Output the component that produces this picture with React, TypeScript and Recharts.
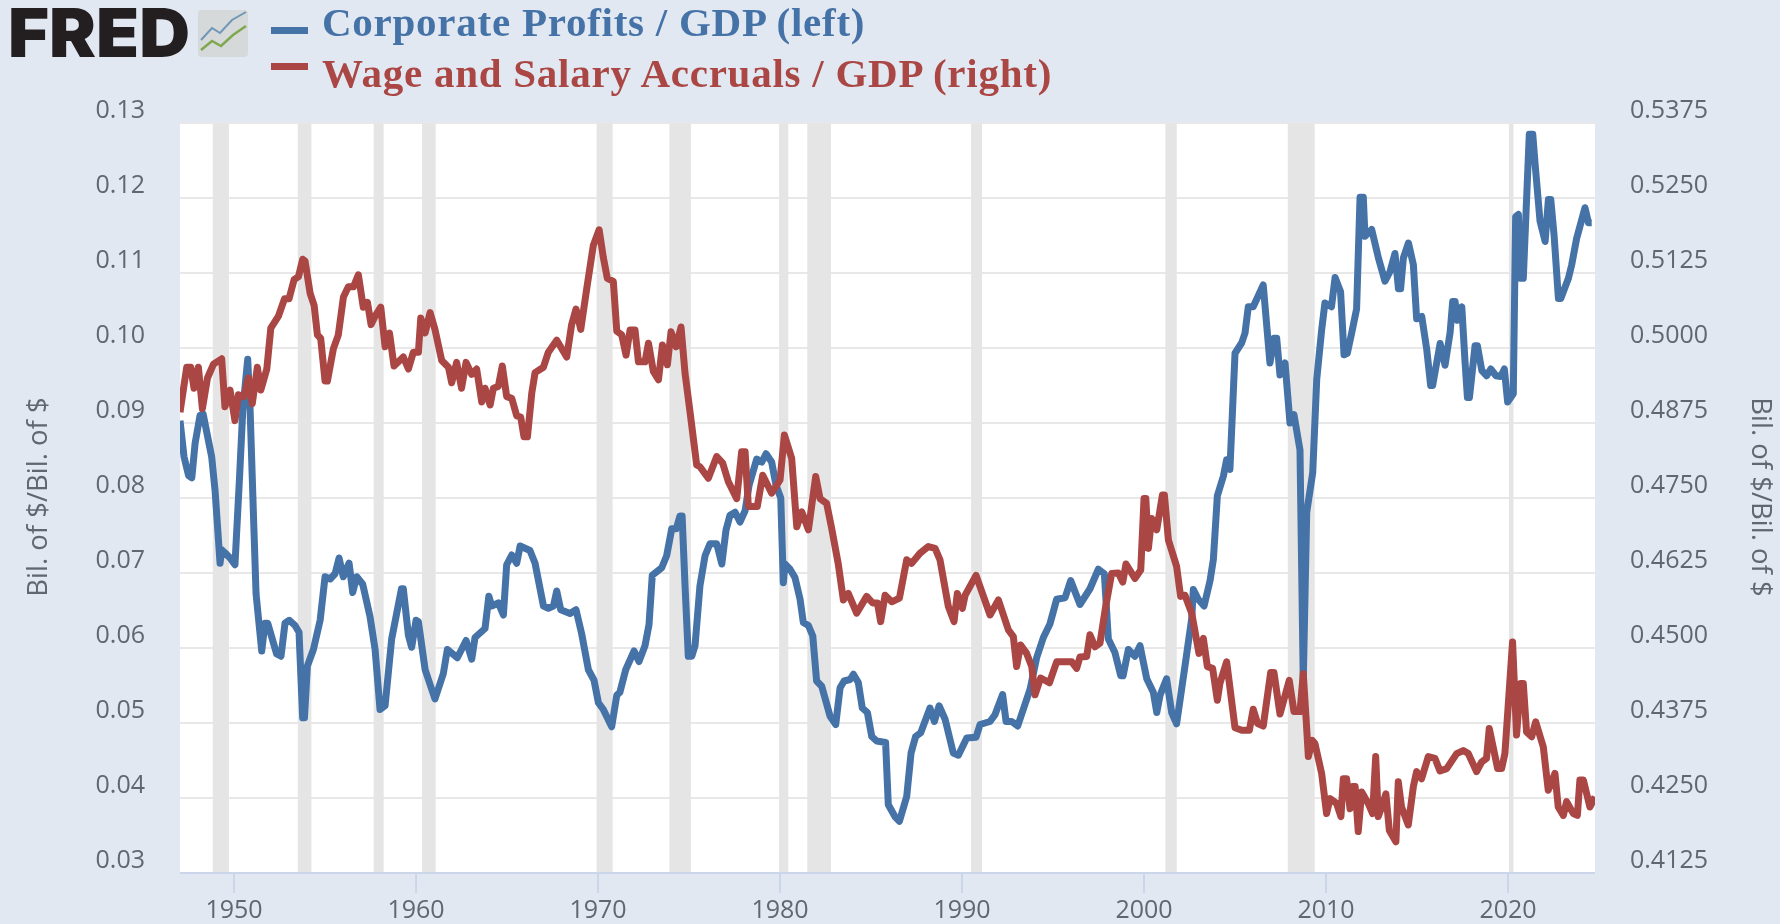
import { CartesianGrid, Line, LineChart, ReferenceArea, XAxis, YAxis } from "recharts"

const profitYears = [
  1947.03, 1947.25, 1947.5, 1947.68, 1947.86, 1948.13, 1948.3, 1948.77, 1948.96, 1949.23, 1949.32, 1949.5, 1949.78,
  1950.05, 1950.3, 1950.48, 1950.75, 1950.88, 1951.06, 1951.21, 1951.52, 1951.7, 1951.85, 1952.34, 1952.58, 1952.8,
  1953.04, 1953.35, 1953.57, 1953.77, 1953.87, 1954.03, 1954.36, 1954.73, 1955.0, 1955.28, 1955.55, 1955.77, 1956.0,
  1956.32, 1956.52, 1956.74, 1957.07, 1957.47, 1957.75, 1958.02, 1958.3, 1958.66, 1959.2, 1959.3, 1959.58, 1959.76,
  1960.0, 1960.13, 1960.5, 1961.04, 1961.5, 1961.72, 1962.27, 1962.75, 1963.06, 1963.24, 1963.79, 1964.0, 1964.16,
  1964.52, 1964.8, 1964.98, 1965.26, 1965.53, 1965.72, 1966.26, 1966.54, 1967.0, 1967.27, 1967.55, 1967.73, 1967.95,
  1968.46, 1968.79, 1969.1, 1969.47, 1969.78, 1970.02, 1970.29, 1970.75, 1971.03, 1971.2, 1971.52, 1971.98, 1972.25,
  1972.58, 1972.8, 1972.98, 1973.5, 1973.77, 1974.05, 1974.3, 1974.5, 1974.62, 1974.78, 1974.96, 1975.15, 1975.33,
  1975.6, 1975.88, 1976.15, 1976.52, 1976.8, 1977.03, 1977.25, 1977.53, 1977.8, 1978.08, 1978.3, 1978.72, 1979.0,
  1979.23, 1979.54, 1979.78, 1980.04, 1980.18, 1980.27, 1980.55, 1980.82, 1981.1, 1981.28, 1981.56, 1981.8, 1982.01,
  1982.29, 1982.75, 1983.06, 1983.3, 1983.52, 1983.85, 1984.03, 1984.3, 1984.52, 1984.8, 1985.04, 1985.31, 1985.8,
  1985.95, 1986.32, 1986.56, 1986.96, 1987.2, 1987.45, 1987.73, 1988.24, 1988.48, 1988.74, 1989.07, 1989.52, 1989.8,
  1990.26, 1990.77, 1990.99, 1991.54, 1991.81, 1992.23, 1992.42, 1992.73, 1993.06, 1993.46, 1993.74, 1994.1, 1994.47,
  1994.83, 1995.2, 1995.66, 1995.97, 1996.48, 1997.03, 1997.49, 1997.82, 1998.04, 1998.4, 1998.72, 1998.85, 1999.14,
  1999.5, 1999.78, 2000.15, 2000.51, 2000.7, 2000.88, 2001.24, 2001.52, 2001.79, 2002.25, 2002.62, 2002.71, 2002.98,
  2003.3, 2003.63, 2003.81, 2004.03, 2004.36, 2004.54, 2004.72, 2005.0, 2005.37, 2005.55, 2005.73, 2006.0, 2006.55,
  2006.92, 2007.14, 2007.29, 2007.47, 2007.75, 2008.02, 2008.24, 2008.57, 2008.75, 2008.94, 2009.27, 2009.49, 2009.76,
  2009.94, 2010.3, 2010.5, 2010.8, 2010.99, 2011.17, 2011.41, 2011.68, 2011.87, 2012.05, 2012.14, 2012.51, 2012.88,
  2013.24, 2013.52, 2013.79, 2013.98, 2014.1, 2014.25, 2014.53, 2014.8, 2014.98, 2015.26, 2015.53, 2015.75, 2015.86,
  2016.27, 2016.54, 2016.82, 2016.96, 2017.09, 2017.22, 2017.46, 2017.64, 2017.77, 2017.88, 2018.19, 2018.32, 2018.56,
  2018.83, 2019.05, 2019.34, 2019.6, 2019.8, 2019.98, 2020.29, 2020.42, 2020.57, 2020.66, 2020.84, 2021.17, 2021.36,
  2021.49, 2021.76, 2022.04, 2022.22, 2022.35, 2022.53, 2022.77, 2022.9, 2023.32, 2023.5, 2023.77, 2024.23, 2024.42,
  2024.6,
]

const profitValues = [
  0.0903, 0.0855, 0.083, 0.0827, 0.0873, 0.091, 0.0912, 0.0855, 0.0809, 0.0713, 0.0731, 0.0727, 0.072,
  0.0711, 0.0827, 0.0917, 0.0985, 0.0919, 0.0782, 0.0672, 0.0596, 0.0633, 0.0633, 0.0592, 0.0589, 0.0633,
  0.0637, 0.063, 0.0621, 0.0507, 0.0507, 0.0576, 0.0598, 0.0637, 0.0695, 0.0692, 0.0699, 0.072, 0.0695,
  0.0713, 0.0674, 0.0695, 0.0685, 0.0642, 0.0598, 0.0518, 0.0523, 0.0612, 0.0679, 0.0679, 0.0617, 0.0601,
  0.0637, 0.0635, 0.0571, 0.0532, 0.0566, 0.0598, 0.0587, 0.061, 0.0585, 0.0614, 0.0626, 0.0669, 0.0656,
  0.066, 0.0644, 0.0711, 0.0724, 0.0713, 0.0736, 0.073, 0.0713, 0.0656, 0.0653, 0.0656, 0.0676, 0.0651,
  0.0646, 0.0651, 0.0619, 0.0571, 0.0557, 0.0527, 0.0518, 0.0495, 0.0537, 0.0541, 0.0571, 0.0596, 0.0582,
  0.0603, 0.0631, 0.0697, 0.0707, 0.0723, 0.0759, 0.0759, 0.0776, 0.0776, 0.0683, 0.0589, 0.0589, 0.0603,
  0.0683, 0.0723, 0.0739, 0.0739, 0.0712, 0.0757, 0.0777, 0.0781, 0.0768, 0.0783, 0.0817, 0.0852, 0.0848,
  0.0859, 0.0848, 0.0817, 0.08, 0.0687, 0.0712, 0.0705, 0.0694, 0.0665, 0.0634, 0.063, 0.0616, 0.0556,
  0.0549, 0.0509, 0.0498, 0.0547, 0.0556, 0.0558, 0.0565, 0.0554, 0.052, 0.0514, 0.0482, 0.0476, 0.0474,
  0.0391, 0.0375, 0.0369, 0.0402, 0.046, 0.0482, 0.0487, 0.052, 0.0502, 0.0523, 0.0505, 0.046, 0.0457,
  0.048, 0.0481, 0.0498, 0.0502, 0.0511, 0.0538, 0.0502, 0.0502, 0.0496, 0.0525, 0.0545, 0.0587, 0.0614,
  0.0632, 0.0665, 0.0667, 0.069, 0.0658, 0.0679, 0.0705, 0.0699, 0.0612, 0.0594, 0.0563, 0.0563, 0.0598,
  0.0589, 0.0603, 0.0559, 0.0541, 0.0514, 0.0537, 0.0559, 0.0514, 0.0499, 0.0576, 0.0639, 0.0678, 0.0665,
  0.0656, 0.069, 0.0718, 0.0803, 0.0829, 0.0851, 0.0838, 0.0993, 0.1007, 0.102, 0.1055, 0.1055, 0.1084,
  0.098, 0.1013, 0.1013, 0.0964, 0.098, 0.09, 0.0911, 0.0864, 0.0555, 0.0781, 0.0834, 0.0958, 0.1024,
  0.106, 0.1055, 0.1094, 0.1075, 0.0991, 0.0993, 0.102, 0.1052, 0.1201, 0.1201, 0.1149, 0.1158, 0.112,
  0.1089, 0.1102, 0.1126, 0.1079, 0.1079, 0.112, 0.114, 0.1111, 0.1039, 0.1042, 0.0999, 0.095, 0.095,
  0.1006, 0.0977, 0.1021, 0.1062, 0.1062, 0.1037, 0.1055, 0.0981, 0.0934, 0.0934, 0.1003, 0.1003, 0.097,
  0.0963, 0.0972, 0.0963, 0.0962, 0.0972, 0.0928, 0.0939, 0.1175, 0.1178, 0.1093, 0.1093, 0.1285, 0.1285,
  0.1245, 0.1169, 0.1142, 0.1198, 0.1198, 0.1151, 0.1066, 0.1066, 0.1093, 0.1111, 0.1146, 0.1187, 0.1167,
  0.1167,
]

const wageYears = [
  1947.03, 1947.4, 1947.62, 1947.8, 1948.04, 1948.26, 1948.54, 1948.87, 1949.32, 1949.5, 1949.78, 1950.05, 1950.24,
  1950.55, 1950.79, 1951.0, 1951.28, 1951.47, 1951.8, 1952.02, 1952.44, 1952.77, 1953.02, 1953.3, 1953.54, 1953.77,
  1953.9, 1954.18, 1954.4, 1954.58, 1954.76, 1955.0, 1955.13, 1955.46, 1955.73, 1956.01, 1956.28, 1956.56, 1956.83,
  1957.1, 1957.33, 1957.53, 1957.75, 1958.06, 1958.3, 1958.54, 1958.79, 1959.3, 1959.58, 1959.85, 1960.13, 1960.26,
  1960.5, 1960.77, 1961.04, 1961.41, 1961.78, 1961.96, 1962.23, 1962.5, 1962.75, 1963.06, 1963.33, 1963.61, 1963.79,
  1964.07, 1964.25, 1964.52, 1964.74, 1964.98, 1965.26, 1965.53, 1965.75, 1965.93, 1966.12, 1966.36, 1966.54, 1967.0,
  1967.27, 1967.73, 1968.28, 1968.55, 1968.79, 1969.05, 1969.38, 1969.74, 1970.06, 1970.29, 1970.51, 1970.84, 1971.03,
  1971.3, 1971.54, 1971.76, 1972.03, 1972.22, 1972.58, 1972.77, 1973.04, 1973.32, 1973.54, 1973.81, 1974.01, 1974.29,
  1974.56, 1974.78, 1975.06, 1975.42, 1975.6, 1976.06, 1976.52, 1976.85, 1977.16, 1977.62, 1977.89, 1978.08, 1978.26,
  1978.75, 1979.05, 1979.54, 1980.0, 1980.24, 1980.64, 1980.92, 1981.19, 1981.56, 1981.96, 1982.2, 1982.56, 1982.84,
  1983.2, 1983.48, 1983.75, 1984.21, 1984.76, 1985.09, 1985.35, 1985.53, 1985.77, 1986.14, 1986.56, 1986.96, 1987.23,
  1987.69, 1988.15, 1988.52, 1988.79, 1989.25, 1989.56, 1989.74, 1990.02, 1990.17, 1990.77, 1991.54, 1992.0, 1992.55,
  1992.82, 1993.0, 1993.22, 1993.55, 1993.83, 1994.01, 1994.32, 1994.8, 1995.2, 1996.03, 1996.3, 1996.48, 1996.85,
  1997.03, 1997.31, 1997.58, 1997.86, 1998.22, 1998.59, 1998.83, 1999.01, 1999.5, 1999.82, 2000.0, 2000.1, 2000.24,
  2000.42, 2000.7, 2001.01, 2001.12, 2001.34, 2001.79, 2002.01, 2002.25, 2002.62, 2003.02, 2003.26, 2003.48, 2003.77,
  2004.03, 2004.17, 2004.54, 2005.0, 2005.37, 2005.79, 2006.0, 2006.24, 2006.55, 2006.96, 2007.14, 2007.47, 2007.98,
  2008.24, 2008.57, 2008.75, 2008.9, 2009.03, 2009.25, 2009.39, 2009.76, 2010.03, 2010.22, 2010.58, 2010.82, 2010.95,
  2011.13, 2011.32, 2011.46, 2011.6, 2011.77, 2011.96, 2012.32, 2012.56, 2012.73, 2012.87, 2013.06, 2013.29, 2013.48,
  2013.84, 2013.97, 2014.15, 2014.52, 2014.8, 2014.98, 2015.25, 2015.62, 2015.99, 2016.26, 2016.63, 2017.18, 2017.54,
  2017.82, 2018.27, 2018.55, 2018.82, 2018.97, 2019.43, 2019.65, 2019.83, 2020.25, 2020.47, 2020.69, 2020.84, 2021.02,
  2021.3, 2021.52, 2021.94, 2022.21, 2022.58, 2022.76, 2023.04, 2023.22, 2023.59, 2023.81, 2023.95, 2024.14, 2024.5,
  2024.78,
]

const wageValues = [
  0.4893, 0.4968, 0.4968, 0.4933, 0.4968, 0.4899, 0.495, 0.4973, 0.4982, 0.4902, 0.493, 0.4879, 0.4922,
  0.4919, 0.495, 0.4907, 0.4968, 0.493, 0.4965, 0.5033, 0.5053, 0.5082, 0.5082, 0.5114, 0.5119, 0.5148,
  0.5145, 0.5091, 0.5071, 0.5022, 0.5016, 0.4945, 0.4945, 0.4999, 0.5022, 0.5085, 0.5102, 0.5102, 0.5122,
  0.5068, 0.5076, 0.5039, 0.5053, 0.5068, 0.5002, 0.5025, 0.497, 0.4985, 0.4965, 0.4993, 0.4993, 0.505,
  0.5025, 0.5059, 0.5031, 0.4979, 0.4968, 0.4942, 0.4976, 0.4933, 0.4976, 0.4956, 0.4965, 0.491, 0.4933,
  0.4905, 0.4933, 0.4936, 0.497, 0.4919, 0.4916, 0.4887, 0.4885, 0.4852, 0.4852, 0.4925, 0.4959, 0.4968,
  0.4993, 0.5013, 0.4985, 0.5039, 0.5065, 0.5031, 0.5099, 0.5171, 0.5197, 0.5151, 0.5116, 0.5111, 0.5028,
  0.5022, 0.4988, 0.503, 0.503, 0.4977, 0.4977, 0.5008, 0.4961, 0.4947, 0.5005, 0.4972, 0.5027, 0.5002,
  0.5035, 0.4958, 0.4892, 0.4805, 0.4802, 0.4783, 0.4819, 0.4808, 0.4777, 0.4749, 0.4827, 0.4827, 0.4736,
  0.4736, 0.4788, 0.4758, 0.478, 0.4855, 0.4816, 0.4702, 0.4727, 0.4697, 0.4786, 0.4749, 0.4741, 0.4699,
  0.464, 0.458, 0.4591, 0.4558, 0.4586, 0.4575, 0.4575, 0.4544, 0.4588, 0.4577, 0.4583, 0.4647, 0.4641,
  0.4658, 0.4669, 0.4666, 0.4647, 0.4569, 0.4544, 0.4591, 0.4566, 0.4588, 0.4621, 0.4555, 0.458, 0.453,
  0.4519, 0.4469, 0.4505, 0.4491, 0.4469, 0.4422, 0.445, 0.4442, 0.4477, 0.4477, 0.4466, 0.4485, 0.4486,
  0.4522, 0.4502, 0.4508, 0.4563, 0.4624, 0.4625, 0.461, 0.464, 0.4616, 0.463, 0.4749, 0.4749, 0.4666,
  0.4716, 0.4697, 0.4755, 0.4755, 0.468, 0.4636, 0.4586, 0.4588, 0.4558, 0.4491, 0.4516, 0.4469, 0.4466,
  0.4413, 0.4441, 0.4477, 0.4367, 0.4363, 0.4363, 0.4398, 0.4374, 0.437, 0.4459, 0.4459, 0.439, 0.4446,
  0.4394, 0.4394, 0.4457, 0.4385, 0.4319, 0.4346, 0.4341, 0.4291, 0.4224, 0.4249, 0.4241, 0.4219, 0.4282,
  0.4282, 0.4232, 0.4269, 0.4269, 0.4194, 0.426, 0.4241, 0.4224, 0.4319, 0.4219, 0.4235, 0.4257, 0.4196,
  0.4177, 0.4277, 0.4235, 0.4205, 0.4269, 0.4294, 0.4282, 0.4319, 0.4316, 0.4295, 0.4299, 0.4324, 0.4329,
  0.4324, 0.4294, 0.431, 0.4316, 0.4366, 0.4299, 0.4299, 0.4324, 0.451, 0.4355, 0.4441, 0.4441, 0.436,
  0.4352, 0.4377, 0.4335, 0.4263, 0.4291, 0.4235, 0.4221, 0.4244, 0.4224, 0.4221, 0.428, 0.428, 0.4235,
  0.4252,
]

const recessionStarts = [1948.83, 1953.5, 1957.67, 1960.33, 1969.92, 1973.92, 1979.95, 1981.5, 1990.5, 2001.17, 2007.9, 2020.05]
const recessionEnds = [1949.72, 1954.25, 1958.22, 1961.08, 1970.8, 1975.1, 1980.45, 1982.8, 1991.1, 2001.8, 2009.38, 2020.3]

const yearTicks = [1950, 1960, 1970, 1980, 1990, 2000, 2010, 2020]
const leftTicks = [0.03, 0.04, 0.05, 0.06, 0.07, 0.08, 0.09, 0.1, 0.11, 0.12, 0.13]
const rightTicks = [0.4125, 0.425, 0.4375, 0.45, 0.4625, 0.475, 0.4875, 0.5, 0.5125, 0.525, 0.5375]

const profitData = profitYears.map((year, i) => ({ year, value: profitValues[i] }))
const wageData = wageYears.map((year, i) => ({ year, value: wageValues[i] }))

const BLUE = "#4572A7"
const RED = "#AA4643"
const TEXT = "#5F6771"
const FONT = "'Open Sans', sans-serif"

function LeftTick({ x, y, payload }: any) {
  return (
    <text x={x - 27} y={y - 14} dy="0.35em" textAnchor="end" fontFamily={FONT} fontSize={25} fill={TEXT}>
      {payload.value.toFixed(2)}
    </text>
  )
}

function RightTick({ x, y, payload }: any) {
  return (
    <text x={x + 27} y={y - 14} dy="0.35em" textAnchor="start" fontFamily={FONT} fontSize={25} fill={TEXT}>
      {payload.value.toFixed(4)}
    </text>
  )
}

function YearTick({ x, payload }: any) {
  return (
    <text x={x} y={909} dy="0.35em" textAnchor="middle" fontFamily={FONT} fontSize={25} fill={TEXT}>
      {payload.value}
    </text>
  )
}

function AxisTitle({ x, y, angle }: { x: number; y: number; angle: number }) {
  return (
    <text
      x={x}
      y={y}
      transform={`rotate(${angle} ${x} ${y})`}
      dy="0.35em"
      textAnchor="middle"
      fontFamily={FONT}
      fontSize={27.5}
      fill={TEXT}
    >
      Bil. of $/Bil. of $
    </text>
  )
}

function Header() {
  const rows = [
    { label: "Corporate Profits / GDP (left)", color: BLUE, swatchTop: 27, baseline: 36 },
    { label: "Wage and Salary Accruals / GDP (right)", color: RED, swatchTop: 63, baseline: 87 },
  ]
  return (
    <svg width={1100} height={105} style={{ position: "absolute", left: 0, top: 0 }}>
      <text
        x={8}
        y={57}
        fontFamily="Inter, sans-serif"
        fontWeight={900}
        fontSize={67}
        fill="#231F20"
        textLength={182}
        lengthAdjust="spacingAndGlyphs"
      >
        FRED
      </text>
      <rect x={198} y={10} width={50} height={47} rx={4} fill="#D5D9D9" />
      <polyline points="201,40 212,28 220,33 232,20 246,12" fill="none" stroke="#6F97B8" strokeWidth={2} />
      <polyline points="201,50 212,41 221,46 233,35 246,26" fill="none" stroke="#7FA84F" strokeWidth={2.5} />
      {rows.map((row) => (
        <g key={row.label}>
          <rect x={271} y={row.swatchTop} width={37} height={7} fill={row.color} />
          <text
            x={322}
            y={row.baseline}
            fontFamily="'Liberation Serif', serif"
            fontWeight={700}
            fontSize={41}
            letterSpacing={0.75}
            fill={row.color}
          >
            {row.label}
          </text>
        </g>
      ))}
    </svg>
  )
}

export default function App() {
  return (
    <div style={{ position: "fixed", left: 0, top: 0, width: 1780, height: 924, background: "#E1E8F1", overflow: "hidden", filter: "blur(0.5px)" }}>
      <LineChart width={1780} height={924} margin={{ top: 123, right: 0, bottom: 0, left: 0 }}>
        <CartesianGrid yAxisId="left" vertical={false} fill="#FFFFFF" stroke="#E8E8E8" strokeWidth={2} />
        <XAxis
          type="number"
          dataKey="year"
          domain={[1947.03, 2024.78]}
          allowDataOverflow
          ticks={yearTicks}
          height={51}
          tick={<YearTick />}
          tickSize={20}
          tickLine={{ stroke: "#CCD6EB", strokeWidth: 2 }}
          axisLine={{ stroke: "#CCD6EB", strokeWidth: 2 }}
        />
        <YAxis
          yAxisId="left"
          width={180}
          domain={[0.03, 0.13]}
          ticks={leftTicks}
          interval={0}
          tick={<LeftTick />}
          tickLine={false}
          axisLine={false}
          label={{ content: () => <AxisTitle x={37} y={497} angle={-90} /> }}
        />
        <YAxis
          yAxisId="right"
          orientation="right"
          width={185}
          domain={[0.4125, 0.5375]}
          ticks={rightTicks}
          interval={0}
          tick={<RightTick />}
          tickLine={false}
          axisLine={false}
          label={{ content: () => <AxisTitle x={1762} y={497} angle={90} /> }}
        />
        {recessionStarts.map((start, i) => (
          <ReferenceArea key={start} yAxisId="left" x1={start} x2={recessionEnds[i]} fill="#E5E5E5" fillOpacity={1} stroke="none" ifOverflow="hidden" />
        ))}
        <Line yAxisId="left" data={profitData} dataKey="value" type="linear" stroke={BLUE} strokeWidth={7} strokeLinejoin="round" dot={false} isAnimationActive={false} />
        <Line yAxisId="right" data={wageData} dataKey="value" type="linear" stroke={RED} strokeWidth={7} strokeLinejoin="round" dot={false} isAnimationActive={false} />
      </LineChart>
      <Header />
    </div>
  )
}
